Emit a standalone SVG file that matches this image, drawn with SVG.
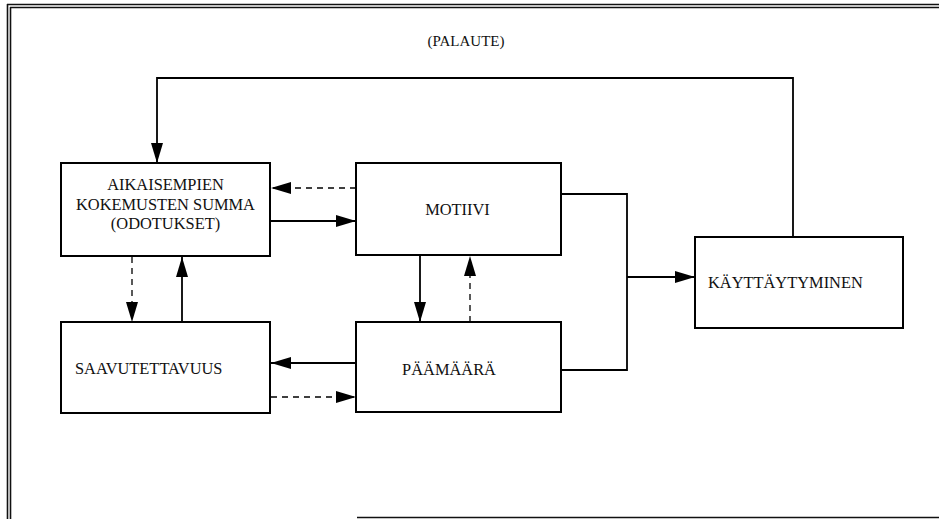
<svg xmlns="http://www.w3.org/2000/svg" width="939" height="519" viewBox="0 0 939 519">
  <style>
    .box { fill: #fff; stroke: #000; stroke-width: 2; }
    .lbl { font-family: "Liberation Serif", "Times New Roman", serif; font-size: 16.4px; fill: #111; }
    .solid { fill: none; stroke: #000; stroke-width: 1.8; }
    .dash { fill: none; stroke: #000; stroke-width: 1.3; stroke-dasharray: 6 5; }
    .frame { fill: none; stroke: #111; stroke-width: 1.6; }
  </style>
  <defs>
    <marker id="ah" viewBox="0 0 20 12" refX="20" refY="6" markerWidth="20" markerHeight="12" markerUnits="userSpaceOnUse" orient="auto">
      <path d="M0,0 L20,6 L0,12 Z" fill="#000"/>
    </marker>
  </defs>

  <rect width="939" height="519" fill="#fff"/>

  <!-- page frame -->
  <g id="frame">
    <line class="frame" x1="7" y1="4.5" x2="939" y2="4.5"/>
    <line class="frame" x1="10" y1="7.5" x2="939" y2="7.5"/>
    <line class="frame" x1="7.5" y1="4" x2="7.5" y2="519"/>
    <line class="frame" x1="10.5" y1="7" x2="10.5" y2="519"/>
    <line class="frame" x1="357" y1="517.5" x2="939" y2="517.5"/>
  </g>

  <!-- connectors -->
  <g id="connectors">
    <!-- feedback loop -->
    <polyline class="solid" points="793,237 793,78 157,78 157,163" marker-end="url(#ah)"/>
    <text class="lbl" x="466" y="46" text-anchor="middle" style="font-size:15px">(PALAUTE)</text>

    <!-- experience <-> motive -->
    <line class="dash" x1="356" y1="188" x2="271" y2="188" marker-end="url(#ah)"/>
    <line class="solid" x1="271" y1="221" x2="356" y2="221" marker-end="url(#ah)"/>

    <!-- experience <-> attainability -->
    <line class="dash" x1="132" y1="257" x2="132" y2="322" marker-end="url(#ah)"/>
    <line class="solid" x1="182" y1="322" x2="182" y2="257" marker-end="url(#ah)"/>

    <!-- goal <-> attainability -->
    <line class="solid" x1="356" y1="363" x2="271" y2="363" marker-end="url(#ah)"/>
    <line class="dash" x1="271" y1="397" x2="356" y2="397" marker-end="url(#ah)"/>

    <!-- motive <-> goal -->
    <line class="solid" x1="420" y1="256" x2="420" y2="322" marker-end="url(#ah)"/>
    <line class="dash" x1="470" y1="322" x2="470" y2="256" marker-end="url(#ah)"/>

    <!-- motive and goal joined into behaviour -->
    <polyline class="solid" points="562,194 627,194 627,370 562,370"/>
    <line class="solid" x1="627" y1="277" x2="695" y2="277" marker-end="url(#ah)"/>
  </g>

  <g id="node-aikaisempien">
    <rect class="box" x="61" y="163" width="209" height="93"/>
    <text class="lbl" x="165.5" y="190" text-anchor="middle">AIKAISEMPIEN</text>
    <text class="lbl" x="165.5" y="209.5" text-anchor="middle">KOKEMUSTEN SUMMA</text>
    <text class="lbl" x="165.5" y="228.5" text-anchor="middle">(ODOTUKSET)</text>
  </g>

  <g id="node-saavutettavuus">
    <rect class="box" x="61" y="322" width="209" height="91"/>
    <text class="lbl" x="75" y="373.5">SAAVUTETTAVUUS</text>
  </g>

  <g id="node-motiivi">
    <rect class="box" x="356" y="163" width="205" height="92"/>
    <text class="lbl" x="457.5" y="215" text-anchor="middle">MOTIIVI</text>
  </g>

  <g id="node-paamaara">
    <rect class="box" x="356" y="322" width="205" height="90"/>
    <text class="lbl" x="449" y="375" text-anchor="middle">PÄÄMÄÄRÄ</text>
  </g>

  <g id="node-kayttaytyminen">
    <rect class="box" x="695" y="237" width="208" height="91"/>
    <text class="lbl" x="708" y="288">KÄYTTÄYTYMINEN</text>
  </g>
</svg>
